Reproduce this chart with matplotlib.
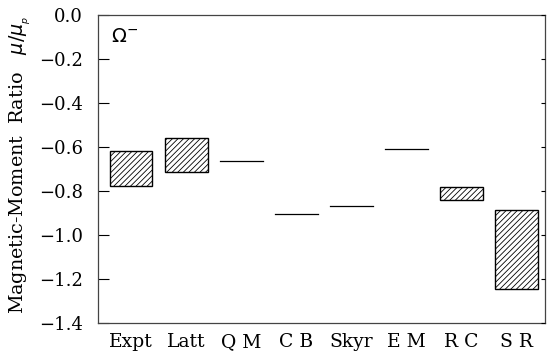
import matplotlib
matplotlib.use("Agg")
import matplotlib.pyplot as plt
from matplotlib.patches import Rectangle
import numpy as np

categories = ["Expt", "Latt", "Q M", "C B", "Skyr", "E M", "R C", "S R"]
upper = [-0.617, -0.561, -0.662, -0.903, -0.868, -0.611, -0.780, -0.888]
lower = [-0.776, -0.712, -0.662, -0.903, -0.868, -0.611, -0.839, -1.247]
yticks = [0.0, -0.2, -0.4, -0.6, -0.8, -1.0, -1.2, -1.4]

plt.rcParams['font.family'] = ['DejaVu Serif']
plt.rcParams['hatch.linewidth'] = 0.6
plt.rcParams['hatch.color'] = '#333333'

fig = plt.figure(figsize=(5.51, 3.54), dpi=100)
ax = fig.add_axes([98/551, 1-323/354, (545-98)/551, (323-15)/354])

w = 0.78
for i, (u, l) in enumerate(zip(upper, lower)):
    if abs(u - l) > 1e-6:
        ax.add_patch(Rectangle((i - w/2, l), w, u - l, facecolor='white',
                               edgecolor='black', linewidth=1.0, hatch='//////'))
    else:
        ax.plot([i - w/2, i + w/2], [u, u], color='black', linewidth=0.9)

ax.set_xlim(-0.6, 7.52)
ax.set_ylim(-1.4, 0.0)
ax.set_xticks(range(len(categories)))
ax.set_xticklabels(categories, fontsize=13.5)
ax.set_yticks(yticks)
ax.set_yticklabels(["0.0"] + ["\u2212%.1f" % abs(v) for v in yticks[1:]], fontsize=13)
ax.tick_params(axis='x', length=0, pad=7)
ax.tick_params(axis='y', direction='in', length=8, width=0.8, pad=11)
for s in ax.spines.values():
    s.set_linewidth(0.9)
    s.set_color('#444444')

ax2 = ax.twinx()
ax2.set_ylim(ax.get_ylim())
ax2.set_yticks(yticks)
ax2.set_yticklabels([])
ax2.tick_params(axis='y', direction='in', length=3, width=0.8)
for s in ax2.spines.values():
    s.set_visible(False)

ax.set_ylabel("Magnetic-Moment  Ratio   $\\mu/\\mu_{_p}$", fontsize=13.8)
ax.yaxis.set_label_coords(-0.145, 0.515)
ax.text(0.03, 0.93, "$\\Omega^{-}$", transform=ax.transAxes, fontsize=14, va='center', ha='left')

fig.savefig("out.png", dpi=100)
